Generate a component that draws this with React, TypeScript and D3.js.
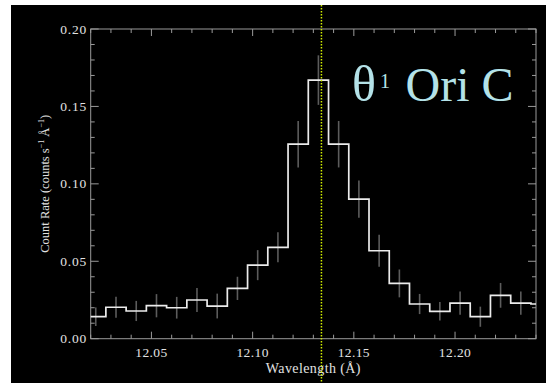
import React from "react";
import * as d3 from "d3";

const binCenters = [12.0225, 12.0325, 12.0425, 12.0525, 12.0625, 12.0725, 12.0825, 12.0925, 12.1025, 12.1125, 12.1225, 12.1325, 12.1425, 12.1525, 12.1625, 12.1725, 12.1825, 12.1925, 12.2025, 12.2125, 12.2225, 12.2325, 12.2425];
const countRate = [0.0142, 0.0203, 0.0179, 0.0213, 0.0200, 0.0250, 0.0211, 0.0325, 0.0475, 0.0590, 0.1256, 0.1670, 0.1256, 0.0901, 0.0568, 0.0357, 0.0224, 0.0177, 0.0230, 0.0142, 0.0280, 0.0230, 0.0224];
const errors = [0.0060, 0.0068, 0.0065, 0.0075, 0.0070, 0.0077, 0.0080, 0.0075, 0.0097, 0.0097, 0.0150, 0.0160, 0.0150, 0.0120, 0.0103, 0.0090, 0.0065, 0.0060, 0.0075, 0.0065, 0.0080, 0.0075, 0];
const binWidth = 0.01;
const xTicks = [12.05, 12.1, 12.15, 12.2];
const xTickLabels = ["12.05", "12.10", "12.15", "12.20"];
const yTicks = [0, 0.05, 0.1, 0.15, 0.2];
const yTickLabels = ["0.00", "0.05", "0.10", "0.15", "0.20"];
const xMinor = [12.02, 12.03, 12.04, 12.05, 12.06, 12.07, 12.08, 12.09, 12.1, 12.11, 12.12, 12.13, 12.14, 12.15, 12.16, 12.17, 12.18, 12.19, 12.2, 12.21, 12.22, 12.23, 12.24];
const yMinor = [0, 0.01, 0.02, 0.03, 0.04, 0.05, 0.06, 0.07, 0.08, 0.09, 0.1, 0.11, 0.12, 0.13, 0.14, 0.15, 0.16, 0.17, 0.18, 0.19, 0.2];
const lineWavelength = 12.134;
const xDomain = [12.02, 12.24];
const yDomain = [0, 0.2];

export default function App() {
  const W = 546, H = 383;
  const L = 90.7, R = 536, T = 29, B = 338.7;
  const x = d3.scaleLinear().domain(xDomain).range([L, R]);
  const y = d3.scaleLinear().domain(yDomain).range([B, T]);

  const pts: [number, number][] = [];
  binCenters.forEach((c, i) => {
    const lo = Math.max(c - binWidth / 2, xDomain[0]);
    const hi = Math.min(c + binWidth / 2, xDomain[1]);
    pts.push([x(lo), y(countRate[i])]);
    pts.push([x(hi), y(countRate[i])]);
  });
  const stepPath = d3.line()(pts) || "";

  const axisColor = "#9a9a9a";
  const textColor = "#e2e2e2";
  const font = "Liberation Serif, DejaVu Serif, serif";
  const titleColor = "#b4e2e8";
  const isMajorX = (v: number) => xTicks.some((t) => Math.abs(t - v) < 1e-6);
  const isMajorY = (v: number) => yTicks.some((t) => Math.abs(t - v) < 1e-6);

  return (
    <svg width={W} height={H} style={{ position: "absolute", left: 0, top: 0, background: "#fff", fontFamily: font }}>
      <rect x={11} y={5} width={W - 11} height={H - 5} fill="#000" />
      {binCenters.map((c, i) =>
        errors[i] > 0 && c > xDomain[0] && c < xDomain[1] ? (
          <line key={"e" + i} x1={x(c)} x2={x(c)} y1={y(countRate[i] - errors[i])} y2={y(countRate[i] + errors[i])} stroke="#5c5c5c" strokeWidth={1.6} />
        ) : null
      )}
      <rect x={L} y={T} width={R - L} height={B - T} fill="none" stroke={axisColor} strokeWidth={1} />
      {xMinor.map((v, i) => {
        const len = isMajorX(v) ? 7 : 4;
        return (
          <g key={"xm" + i}>
            <line x1={x(v)} x2={x(v)} y1={B} y2={B - len} stroke={axisColor} strokeWidth={1} />
            <line x1={x(v)} x2={x(v)} y1={T} y2={T + len} stroke={axisColor} strokeWidth={1} />
          </g>
        );
      })}
      {yMinor.map((v, i) => {
        const len = isMajorY(v) ? 8 : 4;
        return (
          <g key={"ym" + i}>
            <line x1={L} x2={L + len} y1={y(v)} y2={y(v)} stroke={axisColor} strokeWidth={1} />
            <line x1={R} x2={R - len} y1={y(v)} y2={y(v)} stroke={axisColor} strokeWidth={1} />
          </g>
        );
      })}
      <path d={stepPath} fill="none" stroke="#ececec" strokeWidth={1.7} />
      {xTicks.map((v, i) => (
        <text key={"xl" + i} x={x(v)} y={357} textAnchor="middle" fill={textColor} style={{ fontFamily: font }} fontSize={13.5} letterSpacing={0.4}>
          {xTickLabels[i]}
        </text>
      ))}
      {yTicks.map((v, i) => (
        <text key={"yl" + i} x={87} y={y(v) + 4.5} textAnchor="end" fill={textColor} style={{ fontFamily: font }} fontSize={13.5} letterSpacing={0.8}>
          {yTickLabels[i]}
        </text>
      ))}
      <text x={(L + R) / 2} y={373} textAnchor="middle" fill={textColor} style={{ fontFamily: font }} fontSize={14} letterSpacing={0.4}>
        Wavelength (Å)
      </text>
      <text transform={`translate(49,${(T + B) / 2}) rotate(-90)`} textAnchor="middle" fill={textColor} style={{ fontFamily: font }} fontSize={12.5}>
        Count Rate (counts s<tspan fontSize={8} dy={-5}>−1</tspan>
        <tspan dy={5}> Å</tspan>
        <tspan fontSize={8} dy={-5}>−1</tspan>
        <tspan dy={5}>)</tspan>
      </text>
      <text x={352} y={101} fill={titleColor} style={{ fontFamily: font }} fontSize={50}>θ</text>
      <text x={380} y={88} fill={titleColor} style={{ fontFamily: font }} fontSize={20}>1</text>
      <text x={405.5} y={101} fill={titleColor} style={{ fontFamily: font }} fontSize={48}>Ori C</text>
      <line x1={x(lineWavelength)} x2={x(lineWavelength)} y1={5} y2={H} stroke="#d2ee00" strokeWidth={1.5} strokeDasharray="1.5,1.5" />
    </svg>
  );
}
